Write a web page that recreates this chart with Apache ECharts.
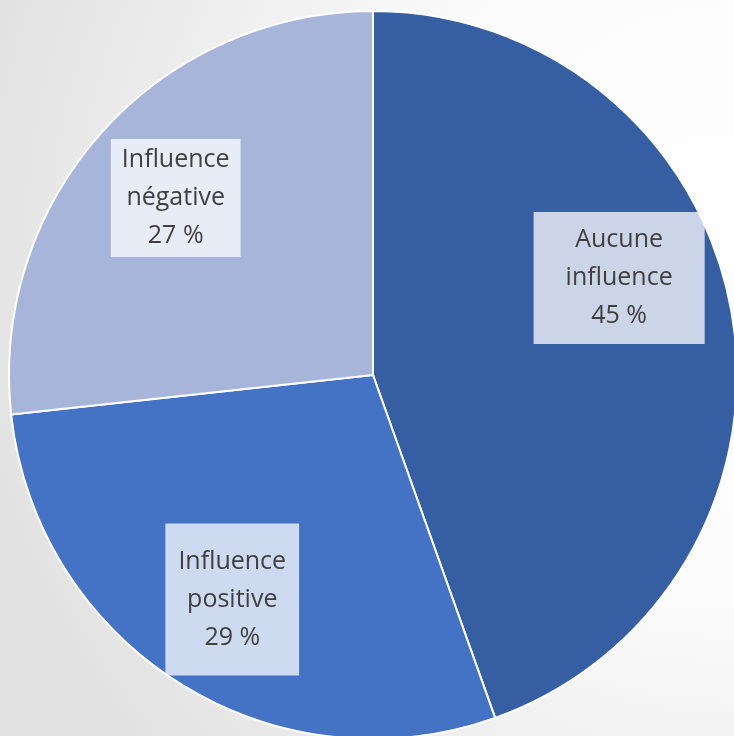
<!DOCTYPE html>
<html>
<head>
<meta charset="utf-8">
<script src="https://cdn.jsdelivr.net/npm/echarts@6/dist/echarts.min.js"></script>
<style>
  html, body { margin: 0; padding: 0; }
  #chart { width: 734px; height: 736px; }
</style>
</head>
<body>
<div id="chart"></div>
<script>
// slices, clockwise from 12 o'clock
const categories = ['Aucune\ninfluence', 'Influence\npositive', 'Influence\nnégative'];
const values = [45, 29, 27];
const colors = ['#365FA3', '#4472C4', '#A7B5DA'];
// per-label box padding (Excel boxes were resized by hand)
const paddings = [[9, 32], [19, 13], [2, 11]];

const chart = echarts.init(document.getElementById('chart'));

const pieData = categories.map((name, i) => ({
  name: name,
  value: values[i],
  itemStyle: {color: colors[i]}
}));

const labelData = categories.map((name, i) => ({
  name: name,
  value: values[i],
  label: {padding: paddings[i]}
}));

chart.setOption({
  backgroundColor: {
    type: 'radial', x: 1, y: 0.35, r: 1.05,
    colorStops: [
      {offset: 0, color: '#ffffff'},
      {offset: 0.45, color: '#fbfbfb'},
      {offset: 1, color: '#e2e2e2'}
    ]
  },
  animation: false,
  series: [
    {
      type: 'pie',
      center: [373, 375],
      radius: [0, 364],
      startAngle: 90,
      clockwise: true,
      silent: true,
      label: {show: false},
      labelLine: {show: false},
      itemStyle: {borderColor: '#ffffff', borderWidth: 2},
      data: pieData
    },
    {
      // transparent ring only used to place labels at ~0.72 r
      type: 'pie',
      center: [373, 375],
      radius: [160, 364],
      startAngle: 90,
      clockwise: true,
      silent: true,
      itemStyle: {color: 'rgba(0,0,0,0)'},
      labelLine: {show: false},
      label: {
        show: true,
        position: 'inside',
        formatter: p => p.name + '\n' + p.value + ' %',
        fontFamily: 'Open Sans',
        fontSize: 25,
        lineHeight: 38,
        color: '#404040',
        backgroundColor: 'rgba(255,255,255,0.74)',
        align: 'center'
      },
      labelLayout: function (params) {
        if (params.dataIndex === 0) {
          return {dx: -15, dy: -52};
        }
        return {};
      },
      data: labelData
    }
  ]
});
</script>
</body>
</html>
